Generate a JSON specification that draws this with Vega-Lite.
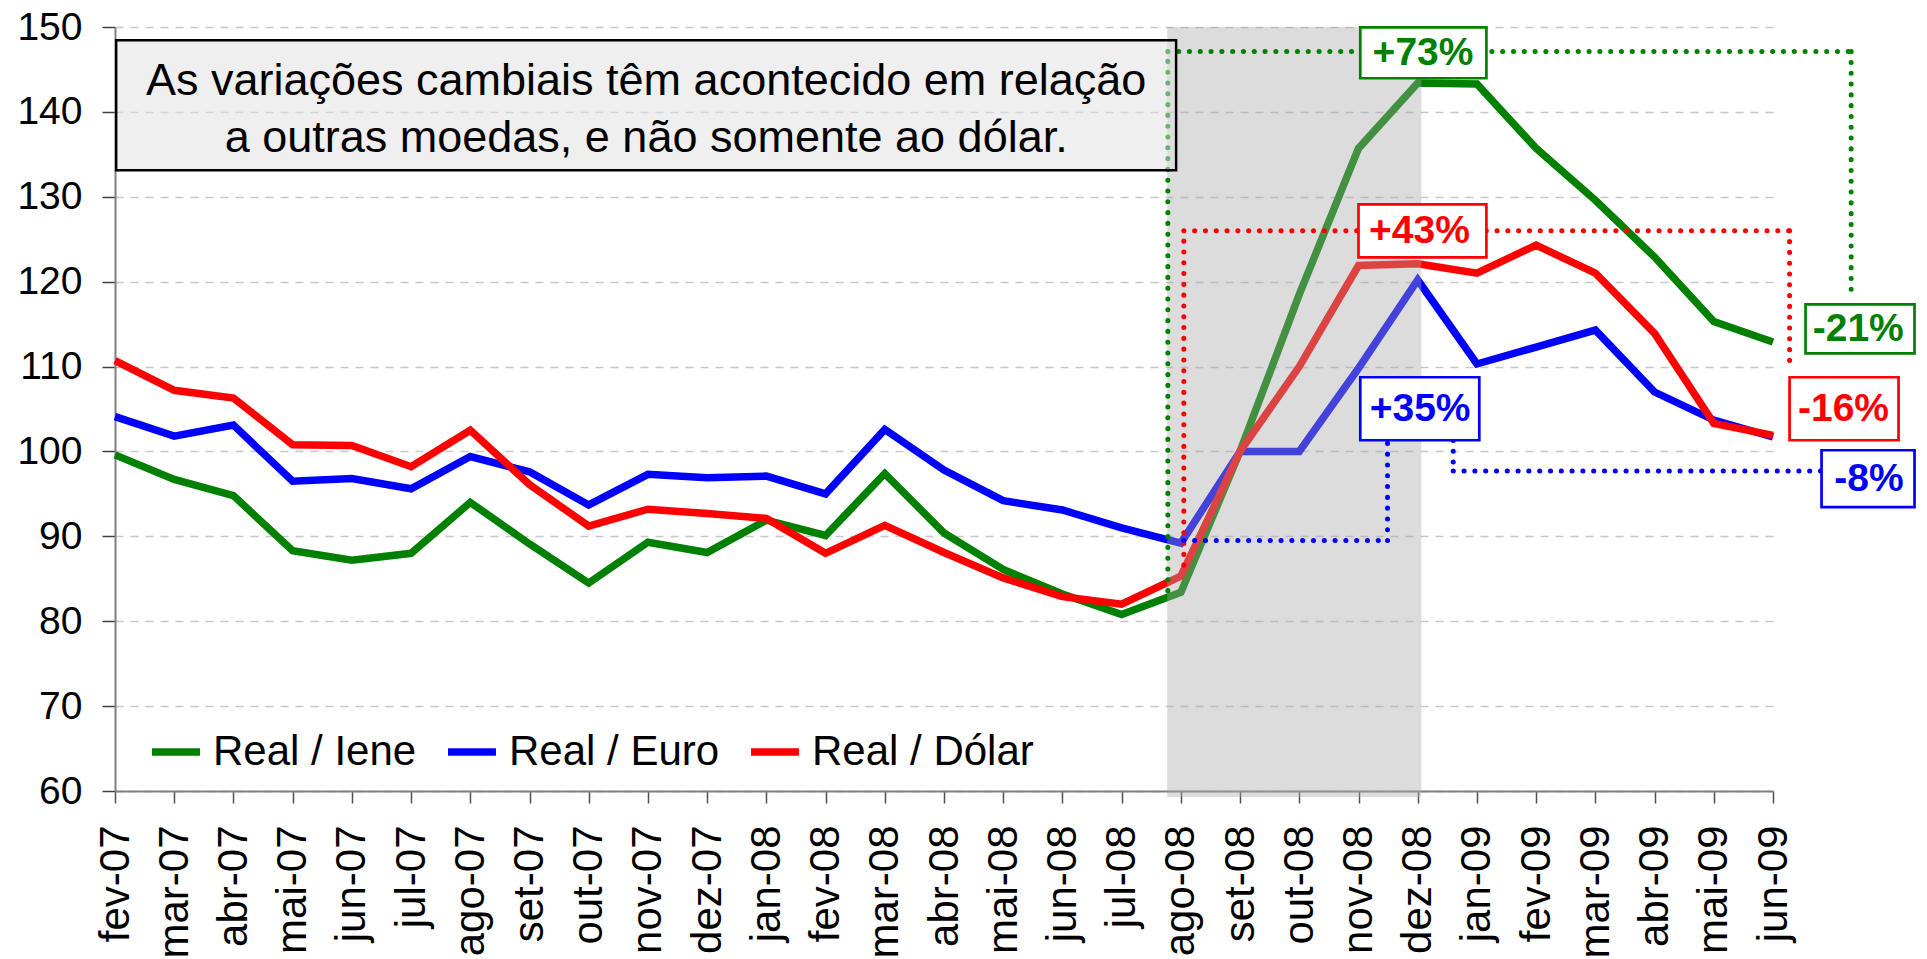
{
  "$schema": "https://vega.github.io/schema/vega-lite/v6.json",
  "width": 1658,
  "height": 764,
  "autosize": "none",
  "padding": {"left": 115, "top": 27, "right": 154, "bottom": 168},
  "background": "white",
  "config": {
    "font": "Liberation Sans",
    "view": {"stroke": null},
    "axis": {"labelFont": "Liberation Sans", "labelColor": "black"}
  },
  "datasets": {
    "series": [
      {"n": 0, "mes": "fev-07", "serie": "Real / Iene", "valor": 99.6},
      {"n": 1, "mes": "mar-07", "serie": "Real / Iene", "valor": 96.7},
      {"n": 2, "mes": "abr-07", "serie": "Real / Iene", "valor": 94.8},
      {"n": 3, "mes": "mai-07", "serie": "Real / Iene", "valor": 88.3},
      {"n": 4, "mes": "jun-07", "serie": "Real / Iene", "valor": 87.2},
      {"n": 5, "mes": "jul-07", "serie": "Real / Iene", "valor": 88.0},
      {"n": 6, "mes": "ago-07", "serie": "Real / Iene", "valor": 94.0},
      {"n": 7, "mes": "set-07", "serie": "Real / Iene", "valor": 89.1},
      {"n": 8, "mes": "out-07", "serie": "Real / Iene", "valor": 84.5},
      {"n": 9, "mes": "nov-07", "serie": "Real / Iene", "valor": 89.3},
      {"n": 10, "mes": "dez-07", "serie": "Real / Iene", "valor": 88.1},
      {"n": 11, "mes": "jan-08", "serie": "Real / Iene", "valor": 91.9},
      {"n": 12, "mes": "fev-08", "serie": "Real / Iene", "valor": 90.1},
      {"n": 13, "mes": "mar-08", "serie": "Real / Iene", "valor": 97.4},
      {"n": 14, "mes": "abr-08", "serie": "Real / Iene", "valor": 90.4},
      {"n": 15, "mes": "mai-08", "serie": "Real / Iene", "valor": 86.1},
      {"n": 16, "mes": "jun-08", "serie": "Real / Iene", "valor": 83.2},
      {"n": 17, "mes": "jul-08", "serie": "Real / Iene", "valor": 80.8},
      {"n": 18, "mes": "ago-08", "serie": "Real / Iene", "valor": 83.4},
      {"n": 19, "mes": "set-08", "serie": "Real / Iene", "valor": 100.0},
      {"n": 20, "mes": "out-08", "serie": "Real / Iene", "valor": 118.5},
      {"n": 21, "mes": "nov-08", "serie": "Real / Iene", "valor": 135.7},
      {"n": 22, "mes": "dez-08", "serie": "Real / Iene", "valor": 143.4},
      {"n": 23, "mes": "jan-09", "serie": "Real / Iene", "valor": 143.3},
      {"n": 24, "mes": "fev-09", "serie": "Real / Iene", "valor": 135.7},
      {"n": 25, "mes": "mar-09", "serie": "Real / Iene", "valor": 129.6},
      {"n": 26, "mes": "abr-09", "serie": "Real / Iene", "valor": 122.9},
      {"n": 27, "mes": "mai-09", "serie": "Real / Iene", "valor": 115.3},
      {"n": 28, "mes": "jun-09", "serie": "Real / Iene", "valor": 112.9},
      {"n": 0, "mes": "fev-07", "serie": "Real / Euro", "valor": 104.1},
      {"n": 1, "mes": "mar-07", "serie": "Real / Euro", "valor": 101.8},
      {"n": 2, "mes": "abr-07", "serie": "Real / Euro", "valor": 103.1},
      {"n": 3, "mes": "mai-07", "serie": "Real / Euro", "valor": 96.5},
      {"n": 4, "mes": "jun-07", "serie": "Real / Euro", "valor": 96.8},
      {"n": 5, "mes": "jul-07", "serie": "Real / Euro", "valor": 95.6},
      {"n": 6, "mes": "ago-07", "serie": "Real / Euro", "valor": 99.4},
      {"n": 7, "mes": "set-07", "serie": "Real / Euro", "valor": 97.6},
      {"n": 8, "mes": "out-07", "serie": "Real / Euro", "valor": 93.7},
      {"n": 9, "mes": "nov-07", "serie": "Real / Euro", "valor": 97.3},
      {"n": 10, "mes": "dez-07", "serie": "Real / Euro", "valor": 96.9},
      {"n": 11, "mes": "jan-08", "serie": "Real / Euro", "valor": 97.1},
      {"n": 12, "mes": "fev-08", "serie": "Real / Euro", "valor": 95.0},
      {"n": 13, "mes": "mar-08", "serie": "Real / Euro", "valor": 102.6},
      {"n": 14, "mes": "abr-08", "serie": "Real / Euro", "valor": 97.8},
      {"n": 15, "mes": "mai-08", "serie": "Real / Euro", "valor": 94.2},
      {"n": 16, "mes": "jun-08", "serie": "Real / Euro", "valor": 93.1},
      {"n": 17, "mes": "jul-08", "serie": "Real / Euro", "valor": 91.0},
      {"n": 18, "mes": "ago-08", "serie": "Real / Euro", "valor": 89.2},
      {"n": 19, "mes": "set-08", "serie": "Real / Euro", "valor": 100.0},
      {"n": 20, "mes": "out-08", "serie": "Real / Euro", "valor": 100.0},
      {"n": 21, "mes": "nov-08", "serie": "Real / Euro", "valor": 109.8},
      {"n": 22, "mes": "dez-08", "serie": "Real / Euro", "valor": 120.2},
      {"n": 23, "mes": "jan-09", "serie": "Real / Euro", "valor": 110.3},
      {"n": 24, "mes": "fev-09", "serie": "Real / Euro", "valor": 112.3},
      {"n": 25, "mes": "mar-09", "serie": "Real / Euro", "valor": 114.3},
      {"n": 26, "mes": "abr-09", "serie": "Real / Euro", "valor": 107.0},
      {"n": 27, "mes": "mai-09", "serie": "Real / Euro", "valor": 103.7},
      {"n": 28, "mes": "jun-09", "serie": "Real / Euro", "valor": 101.7},
      {"n": 0, "mes": "fev-07", "serie": "Real / Dólar", "valor": 110.7},
      {"n": 1, "mes": "mar-07", "serie": "Real / Dólar", "valor": 107.2},
      {"n": 2, "mes": "abr-07", "serie": "Real / Dólar", "valor": 106.3},
      {"n": 3, "mes": "mai-07", "serie": "Real / Dólar", "valor": 100.8},
      {"n": 4, "mes": "jun-07", "serie": "Real / Dólar", "valor": 100.7},
      {"n": 5, "mes": "jul-07", "serie": "Real / Dólar", "valor": 98.2},
      {"n": 6, "mes": "ago-07", "serie": "Real / Dólar", "valor": 102.5},
      {"n": 7, "mes": "set-07", "serie": "Real / Dólar", "valor": 96.1},
      {"n": 8, "mes": "out-07", "serie": "Real / Dólar", "valor": 91.2},
      {"n": 9, "mes": "nov-07", "serie": "Real / Dólar", "valor": 93.2},
      {"n": 10, "mes": "dez-07", "serie": "Real / Dólar", "valor": 92.7},
      {"n": 11, "mes": "jan-08", "serie": "Real / Dólar", "valor": 92.1},
      {"n": 12, "mes": "fev-08", "serie": "Real / Dólar", "valor": 88.0},
      {"n": 13, "mes": "mar-08", "serie": "Real / Dólar", "valor": 91.3},
      {"n": 14, "mes": "abr-08", "serie": "Real / Dólar", "valor": 88.1},
      {"n": 15, "mes": "mai-08", "serie": "Real / Dólar", "valor": 85.1},
      {"n": 16, "mes": "jun-08", "serie": "Real / Dólar", "valor": 82.9},
      {"n": 17, "mes": "jul-08", "serie": "Real / Dólar", "valor": 82.0},
      {"n": 18, "mes": "ago-08", "serie": "Real / Dólar", "valor": 85.3},
      {"n": 19, "mes": "set-08", "serie": "Real / Dólar", "valor": 100.0},
      {"n": 20, "mes": "out-08", "serie": "Real / Dólar", "valor": 110.0},
      {"n": 21, "mes": "nov-08", "serie": "Real / Dólar", "valor": 121.9},
      {"n": 22, "mes": "dez-08", "serie": "Real / Dólar", "valor": 122.1},
      {"n": 23, "mes": "jan-09", "serie": "Real / Dólar", "valor": 121.0},
      {"n": 24, "mes": "fev-09", "serie": "Real / Dólar", "valor": 124.3},
      {"n": 25, "mes": "mar-09", "serie": "Real / Dólar", "valor": 121.0},
      {"n": 26, "mes": "abr-09", "serie": "Real / Dólar", "valor": 113.9},
      {"n": 27, "mes": "mai-09", "serie": "Real / Dólar", "valor": 103.3},
      {"n": 28, "mes": "jun-09", "serie": "Real / Dólar", "valor": 101.9}
    ],
    "pontilhados": [
      {"serie": "Real / Iene", "n1": 17.78, "v1": 83.6, "n2": 17.78, "v2": 147.1},
      {"serie": "Real / Iene", "n1": 17.78, "v1": 147.1, "n2": 29.32, "v2": 147.1},
      {"serie": "Real / Iene", "n1": 29.32, "v1": 147.1, "n2": 29.32, "v2": 118.3},
      {"serie": "Real / Dólar", "n1": 18.05, "v1": 86.6, "n2": 18.05, "v2": 126.0},
      {"serie": "Real / Dólar", "n1": 18.05, "v1": 126.0, "n2": 28.28, "v2": 126.0},
      {"serie": "Real / Dólar", "n1": 28.28, "v1": 126.0, "n2": 28.28, "v2": 109.6},
      {"serie": "Real / Euro", "n1": 18.05, "v1": 89.5, "n2": 21.49, "v2": 89.5},
      {"serie": "Real / Euro", "n1": 21.49, "v1": 89.5, "n2": 21.49, "v2": 101.3},
      {"serie": "Real / Euro", "n1": 22.6, "v1": 101.3, "n2": 22.6, "v2": 97.7},
      {"serie": "Real / Euro", "n1": 22.6, "v1": 97.7, "n2": 28.82, "v2": 97.7}
    ],
    "caixas": [
      {"serie": "Real / Iene", "rotulo": "+73%", "n1": 21.03, "n2": 23.16, "v1": 149.96, "v2": 143.96, "nc": 22.09, "vc": 146.96},
      {"serie": "Real / Dólar", "rotulo": "+43%", "n1": 21.0, "n2": 23.16, "v1": 129.1, "v2": 122.85, "nc": 22.03, "vc": 126.0},
      {"serie": "Real / Euro", "rotulo": "+35%", "n1": 21.03, "n2": 23.04, "v1": 108.74, "v2": 101.32, "nc": 22.04, "vc": 105.0},
      {"serie": "Real / Iene", "rotulo": "-21%", "n1": 28.55, "n2": 30.39, "v1": 117.33, "v2": 111.56, "nc": 29.44, "vc": 114.45},
      {"serie": "Real / Dólar", "rotulo": "-16%", "n1": 28.28, "n2": 30.12, "v1": 108.74, "v2": 101.32, "nc": 29.19, "vc": 105.0},
      {"serie": "Real / Euro", "rotulo": "-8%", "n1": 28.82, "n2": 30.39, "v1": 100.14, "v2": 93.43, "nc": 29.62, "vc": 96.79}
    ]
  },
  "layer": [
    {
      "data": {"name": "series"},
      "mark": {"type": "line", "strokeWidth": 7.5, "clip": false},
      "encoding": {
        "x": {
          "field": "n", "type": "quantitative",
          "scale": {"domain": [0, 28], "nice": false, "zero": false},
          "axis": {
            "values": [0,1,2,3,4,5,6,7,8,9,10,11,12,13,14,15,16,17,18,19,20,21,22,23,24,25,26,27,28],
            "labelExpr": "['fev-07','mar-07','abr-07','mai-07','jun-07','jul-07','ago-07','set-07','out-07','nov-07','dez-07','jan-08','fev-08','mar-08','abr-08','mai-08','jun-08','jul-08','ago-08','set-08','out-08','nov-08','dez-08','jan-09','fev-09','mar-09','abr-09','mai-09','jun-09'][datum.value]",
            "labelAngle": -90, "labelAlign": "right", "labelBaseline": "middle",
            "labelFontSize": 42, "labelPadding": 22, "labelOverlap": false, "labelFlush": false, "labelBound": false,
            "tickSize": 12, "tickColor": "#505050", "tickWidth": 1.5,
            "domainColor": "#808080", "domainWidth": 2, "grid": false, "title": null
          }
        },
        "y": {
          "field": "valor", "type": "quantitative",
          "scale": {"domain": [60, 150], "nice": false, "zero": false},
          "axis": {
            "values": [60,70,80,90,100,110,120,130,140,150],
            "labelFontSize": 39, "labelPadding": 20, "labelFlush": false, "labelOverlap": false,
            "tickSize": 13, "tickColor": "#404040", "tickWidth": 1.5,
            "domainColor": "#808080", "domainWidth": 2,
            "grid": true, "gridColor": "#c8c8c8", "gridDash": [8, 7], "gridWidth": 1.5,
            "title": null
          }
        },
        "color": {
          "field": "serie", "type": "nominal",
          "scale": {"domain": ["Real / Iene", "Real / Euro", "Real / Dólar"], "range": ["#008000", "#0000FF", "#FF0000"]},
          "legend": {
            "orient": "none", "legendX": 33, "legendY": 697, "direction": "horizontal", "title": null,
            "labelFontSize": 42, "labelFont": "Liberation Sans", "labelColor": "black", "labelLimit": 500,
            "symbolType": "stroke", "symbolStrokeWidth": 7.5, "symbolSize": 2300,
            "columnPadding": 16, "labelOffset": 9, "padding": 0, "rowPadding": 0
          }
        },
        "order": {"field": "n", "type": "quantitative"}
      }
    },
    {
      "data": {"values": [{}]},
      "mark": {"type": "rect", "fill": "#a8a8a8", "opacity": 0.4, "clip": false},
      "encoding": {
        "x": {"datum": 17.77, "type": "quantitative"},
        "x2": {"datum": 22.06},
        "y": {"datum": 150, "type": "quantitative"},
        "y2": {"datum": 59.3}
      }
    },
    {
      "data": {"name": "pontilhados"},
      "mark": {"type": "rule", "strokeWidth": 5, "strokeDash": [0.1, 10.7], "strokeCap": "round", "clip": false},
      "encoding": {
        "x": {"field": "n1", "type": "quantitative"},
        "x2": {"field": "n2"},
        "y": {"field": "v1", "type": "quantitative"},
        "y2": {"field": "v2"},
        "color": {"field": "serie", "type": "nominal", "legend": null}
      }
    },
    {
      "data": {"values": [{}]},
      "mark": {"type": "rect", "fill": "#e0e0e0", "fillOpacity": 0.5, "stroke": "black", "strokeWidth": 2.5, "clip": false},
      "encoding": {
        "x": {"datum": 0.02, "type": "quantitative"},
        "x2": {"datum": 17.92},
        "y": {"datum": 148.43, "type": "quantitative"},
        "y2": {"datum": 133.12}
      }
    },
    {
      "data": {"values": [{}]},
      "mark": {
        "type": "text",
        "text": ["As variações cambiais têm acontecido em relação", "a outras moedas, e não somente ao dólar."],
        "fontSize": 45, "lineHeight": 57, "align": "center", "baseline": "alphabetic", "color": "black", "font": "Liberation Sans"
      },
      "encoding": {
        "x": {"datum": 8.97, "type": "quantitative"},
        "y": {"datum": 141.96, "type": "quantitative"}
      }
    },
    {
      "data": {"name": "caixas"},
      "mark": {"type": "rect", "fill": "white", "strokeWidth": 2.7, "clip": false},
      "encoding": {
        "x": {"field": "n1", "type": "quantitative"},
        "x2": {"field": "n2"},
        "y": {"field": "v1", "type": "quantitative"},
        "y2": {"field": "v2"},
        "stroke": {"field": "serie", "type": "nominal", "scale": {"domain": ["Real / Iene", "Real / Euro", "Real / Dólar"], "range": ["#008000", "#0000FF", "#FF0000"]}, "legend": null}
      }
    },
    {
      "data": {"name": "caixas"},
      "mark": {"type": "text", "fontSize": 39, "fontWeight": "bold", "align": "center", "baseline": "middle", "font": "Liberation Sans", "clip": false},
      "encoding": {
        "x": {"field": "nc", "type": "quantitative"},
        "y": {"field": "vc", "type": "quantitative"},
        "text": {"field": "rotulo"},
        "color": {"field": "serie", "type": "nominal", "legend": null}
      }
    }
  ]
}
